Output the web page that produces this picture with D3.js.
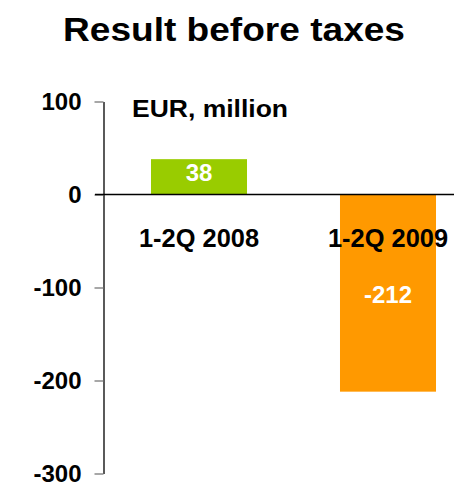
<!DOCTYPE html>
<html><head><meta charset="utf-8">
<script src="https://cdn.jsdelivr.net/npm/d3@7"></script>
<style>html,body{margin:0;padding:0;background:#fff;}svg{display:block;}text{font-family:"Liberation Sans",Arial,sans-serif;font-weight:bold;}</style>
</head><body>
<svg id="c" width="454" height="483"></svg>
<script>
const categories = ["1-2Q 2008", "1-2Q 2009"];
const values = [38, -212];
const valueLabels = ["38", "-212"];
const barColors = ["#99cc00", "#ff9900"];
const tickValues = [100, 0, -100, -200, -300];
const tickLabels = ["100", "0", "-100", "-200", "-300"];
const title = "Result before taxes";
const unitLabel = "EUR, million";

const svg = d3.select("#c");
const y = d3.scaleLinear().domain([-300, 100]).range([473.5, 101.5]);
const x = d3.scaleBand().domain(categories).range([104.5, 482.5]).paddingInner(0.492).paddingOuter(0.246);
const axisX = 103.5;

// title
svg.append("text").attr("x", 63).attr("y", 41).attr("font-size", 33)
  .attr("textLength", 342).attr("lengthAdjust", "spacingAndGlyphs").text(title);

// bars
svg.selectAll("rect.bar").data(values).join("rect").attr("class", "bar")
  .attr("x", (d, i) => x(categories[i]))
  .attr("width", x.bandwidth())
  .attr("y", d => Math.min(y(d), y(0)))
  .attr("height", d => Math.abs(y(d) - y(0)))
  .attr("fill", (d, i) => barColors[i]);

// y axis
const axis = d3.axisLeft(y).tickValues(tickValues)
  .tickFormat(d => tickLabels[tickValues.indexOf(d)])
  .tickSize(9).tickPadding(13).tickSizeOuter(0);
const g = svg.append("g").attr("transform", `translate(${axisX},0)`).call(axis);
g.select(".domain").attr("stroke", "#000").attr("stroke-width", 1.3);
g.selectAll(".tick line").attr("stroke", "#777").attr("stroke-width", 1.3);
g.selectAll(".tick text").attr("font-size", 24).attr("fill", "#000")
  .attr("font-family", '"Liberation Sans",Arial,sans-serif').attr("font-weight", "bold")
  .attr("dy", "0.34em");

// zero line
svg.append("line").attr("x1", 95).attr("x2", 454).attr("y1", y(0)).attr("y2", y(0))
  .attr("stroke", "#000").attr("stroke-width", 1.3);

// unit label
svg.append("text").attr("x", 132).attr("y", 116.5).attr("font-size", 23)
  .attr("textLength", 156).attr("lengthAdjust", "spacingAndGlyphs").text(unitLabel);

// category labels
svg.selectAll("text.cat").data(categories).join("text").attr("class", "cat")
  .attr("x", d => x(d) + x.bandwidth() / 2).attr("y", 247).attr("text-anchor", "middle")
  .attr("font-size", 25).attr("textLength", 120).attr("lengthAdjust", "spacingAndGlyphs")
  .attr("fill", "#000").text(d => d);

// value labels
svg.selectAll("text.val").data(values).join("text").attr("class", "val")
  .attr("x", (d, i) => x(categories[i]) + x.bandwidth() / 2)
  .attr("y", (d, i) => i === 0 ? 181 : 302.5)
  .attr("text-anchor", "middle").attr("font-size", 24).attr("fill", "#fff")
  .text((d, i) => valueLabels[i]);
</script>
</body></html>
